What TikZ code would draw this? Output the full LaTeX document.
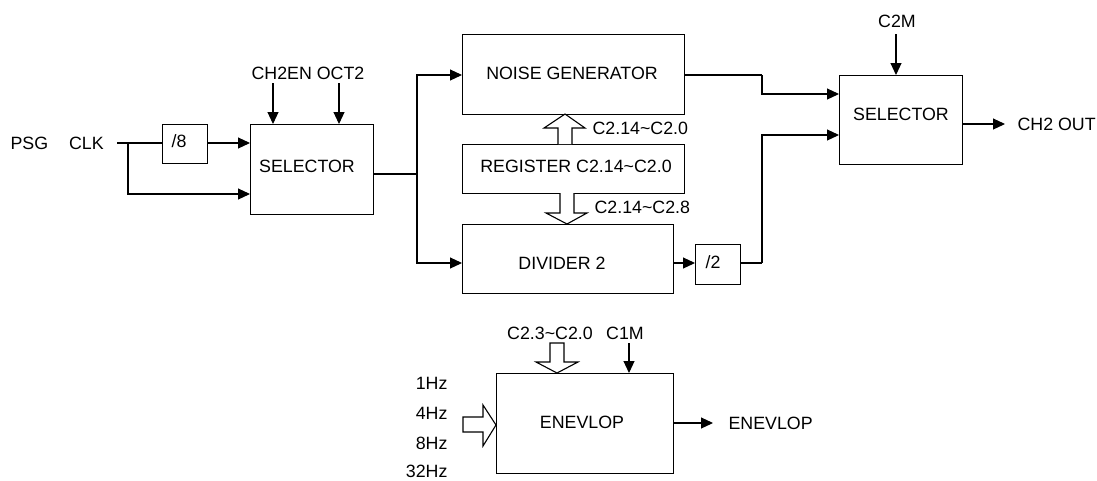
\documentclass[tikz,border=0pt]{standalone}
\usepackage{fontspec}
\setmainfont{Liberation Sans}
\usetikzlibrary{arrows.meta}
\begin{document}
\begin{tikzpicture}[x=1pt,y=-1pt,
  font=\fontsize{17.8}{21}\selectfont,
  every path/.style={line width=1.1pt},
  blk/.style={draw, line width=1.1pt, inner sep=0pt, anchor=north west},
  txt/.style={inner sep=0pt},
  arr/.style={-{Triangle[length=12pt,width=11pt]}},
  hollow/.style={draw, line width=1.1pt, fill=white, line join=miter}]
\useasboundingbox (0,0) rectangle (1097,480);

% boxes
\node[blk, minimum width=45pt, minimum height=39pt] (d8) at (162,124) {};
\node[txt] (d8t) at (179,141) {/8};
\node[blk, minimum width=123pt, minimum height=90pt] (sel1) at (250,124) {};
\node[txt] (sel1t) at (307,166) {SELECTOR};
\node[blk, minimum width=222pt, minimum height=80pt] (ng) at (462,34) {};
\node[txt] (ngt) at (572,73) {NOISE GENERATOR};
\node[blk, minimum width=222pt, minimum height=49pt] (reg) at (462,144) {};
\node[txt] (regt) at (576,166) {REGISTER C2.14\textasciitilde C2.0};
\node[blk, minimum width=211pt, minimum height=69pt] (div) at (462,224) {};
\node[txt] (divt) at (562,263) {DIVIDER 2};
\node[blk, minimum width=45pt, minimum height=40pt] (d2) at (695,244) {};
\node[txt] (d2t) at (713,262) {/2};
\node[blk, minimum width=123pt, minimum height=89pt] (sel2) at (839,75) {};
\node[txt] (sel2t) at (901,114) {SELECTOR};
\node[blk, minimum width=177pt, minimum height=100pt] (env) at (496,373) {};
\node[txt] (envt) at (582,422) {ENEVLOP};

% labels
\node[txt, anchor=west] (psg) at (10,143) {PSG\hspace{21pt}CLK};
\node[txt] (ctl1) at (308,73) {CH2EN OCT2};
\node[txt] (c2m) at (897,21) {C2M};
\node[txt, anchor=west] (lab1) at (592,128) {C2.14\textasciitilde C2.0};
\node[txt, anchor=west] (lab2) at (594,207) {C2.14\textasciitilde C2.8};
\node[txt, anchor=west] (ch2out) at (1017,124) {CH2 OUT};
\node[txt] (lab3) at (550,333) {C2.3\textasciitilde C2.0};
\node[txt] (c1m) at (625,333) {C1M};
\node[txt, anchor=east] (f1) at (448,383) {1Hz};
\node[txt, anchor=east] (f4) at (448,413) {4Hz};
\node[txt, anchor=east] (f8) at (448,443) {8Hz};
\node[txt, anchor=east] (f32) at (448,471) {32Hz};
\node[txt, anchor=west] (envout) at (728,423) {ENEVLOP};

% coordinates
\coordinate (clkin) at (117,143);
\coordinate (clkbr) at (128,143);
\coordinate (ch2en) at (273,83);
\coordinate (oct2) at (339,83);
\coordinate (split) at (417,174);
\coordinate (mid1) at (762,75);
\coordinate (mid2) at (762,263);
\coordinate (c2mt) at (896,34);
\coordinate (outtip) at (1005,124);
\coordinate (c1mt) at (629,343);
\coordinate (envtip) at (713,423);

% connectors
\draw (clkin) -- (d8.west |- clkin);
\draw[arr] (d8.east |- clkin) -- (sel1.west |- clkin);
\draw[arr] (clkbr) |- (sel1.west |- 0,194);
\draw[arr] (ch2en) -- (ch2en |- sel1.north);
\draw[arr] (oct2) -- (oct2 |- sel1.north);
\draw (sel1.east |- split) -- (split);
\draw[arr] (split) |- (ng.west |- 0,75);
\draw[arr] (split) |- (div.west |- 0,263);
\draw[arr] (div.east |- 0,263) -- (d2.west |- 0,263);
\draw (d2.east |- mid2) -- (mid2);
\draw[arr] (mid2) |- (sel2.west |- 0,135);
\draw (ng.east |- mid1) -- (mid1);
\draw[arr] (mid1) |- (sel2.west |- 0,94);
\draw[arr] (c2mt) -- (c2mt |- sel2.north);
\draw[arr] (sel2.east |- outtip) -- (outtip);
\draw[arr] (c1mt) -- (c1mt |- env.north);
\draw[arr] (env.east |- envtip) -- (envtip);

% hollow bus arrows
\draw[hollow] (558,144) -- (558,128) -- (544,128) -- (565,114) -- (585,128) -- (572,128) -- (572,144);
\draw[hollow] (560,193) -- (560,213) -- (546,213) -- (567,224) -- (587,213) -- (574,213) -- (574,193);
\draw[hollow] (550,343) -- (550,362) -- (536,362) -- (557,373) -- (578,362) -- (564,362) -- (564,343) -- cycle;
\draw[hollow] (463,417) -- (483,417) -- (483,405) -- (496,425) -- (483,446) -- (483,432) -- (463,432) -- cycle;
\end{tikzpicture}
\end{document}
